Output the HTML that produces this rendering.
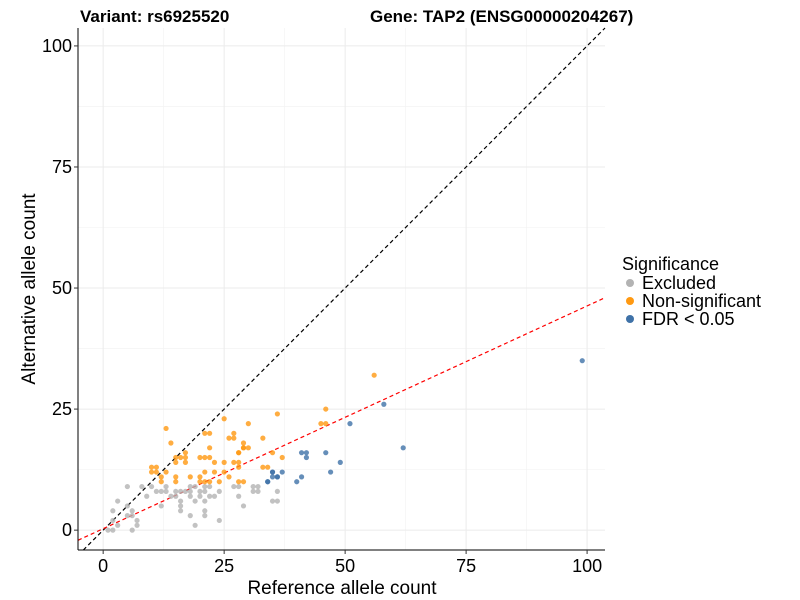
<!DOCTYPE html>
<html><head><meta charset="utf-8">
<style>
body{margin:0;background:#fff;}
svg{display:block;font-family:"Liberation Sans",Arial,sans-serif;}
</style></head>
<body>
<svg id="chart" width="800" height="600" viewBox="0 0 800 600" xmlns="http://www.w3.org/2000/svg">
<text x="80" y="22" font-size="17" font-weight="bold">Variant: rs6925520</text>
<text x="370" y="22" font-size="17" font-weight="bold">Gene: TAP2 (ENSG00000204267)</text>
<g id="grid"></g>
<g id="lines"></g>
<g id="points"></g>
<g id="axes"></g>
<text x="342" y="594" font-size="19" text-anchor="middle">Reference allele count</text>
<text transform="translate(35,289) rotate(-90)" font-size="19" text-anchor="middle">Alternative allele count</text>
<g>
<text x="622" y="270" font-size="18">Significance</text>
<circle cx="630" cy="283" r="4" fill="#b3b3b3"/>
<text x="642" y="289" font-size="18">Excluded</text>
<circle cx="630" cy="301" r="4" fill="#ff9912"/>
<text x="642" y="307" font-size="18">Non-significant</text>
<circle cx="630" cy="319" r="4" fill="#3f72a8"/>
<text x="642" y="325" font-size="18">FDR &lt; 0.05</text>
</g>
</svg>
<script>
const excludedRef = [5,8,10,13,18,19,21,22,28,32,11,12,13,15,16,17,18,20,21,24,32,9,3,14,15,18,20,22,23,28,12,16,19,21,36,2,5,6,16,16,21,29,5,6,7,2,3,1,2,6,7,18,21,24,19,27,31,31,35,36];
const excludedAlt = [9,9,9,9,9,9,9,9,9,9,8,8,8,8,8,8,8,8,8,8,8,7,6,7,7,7,7,7,7,7,5,6,6,6,6,4,5,4,5,4,4,5,3,3,2,2,1,0,0,0,1,3,3,2,1,9,9,8,6,8];
const nonsigRef = [13,14,25,30,36,21,22,27,26,27,33,29,22,29,30,17,28,15,16,17,20,21,22,35,15,17,23,25,27,28,10,11,28,33,34,10,11,13,18,21,23,25,12,15,20,26,12,15,20,21,22,24,28,29,56,46,45,46,37,28,29];
const nonsigAlt = [21,18,23,22,24,20,20,20,19,19,19,18,17,17,17,16,16,15,15,15,15,15,15,16,14,14,14,14,14,14,13,13,13,13,13,12,12,12,11,12,12,12,11,11,11,11,10,10,10,10,10,10,10,10,32,25,22,22,15,16,17];
const fdrRef = [35,35,36,34,58,51,41,42,42,46,49,47,35,37,36,34,40,41,99,62];
const fdrAlt = [12,11,11,10,26,22,16,16,15,16,14,12,12,12,11,10,10,11,35,17];
const xTicks = [0,25,50,75,100];
const yTicks = [0,25,50,75,100];
const redSlope = 0.46, redIntercept = 0.3;

const L=78,R=605,T=28,B=550;
const xMin=-5.2,xMax=103.7,yMin=-4.1,yMax=103.7;
const sx=v=>L+(v-xMin)/(xMax-xMin)*(R-L);
const sy=v=>B-(v-yMin)/(yMax-yMin)*(B-T);
const NS="http://www.w3.org/2000/svg";
function mk(tag,attrs,parent){const e=document.createElementNS(NS,tag);for(const k in attrs)e.setAttribute(k,attrs[k]);parent.appendChild(e);return e;}
const grid=document.getElementById('grid');
const minor=[12.5,37.5,62.5,87.5];
minor.forEach(v=>{
 let a=mk('line',{x1:sx(v),x2:sx(v),y1:T,y2:B,stroke:'#f2f2f2','stroke-width':0.6},grid);
 
 
 let b=mk('line',{x1:L,x2:R,y1:sy(v),y2:sy(v),stroke:'#f2f2f2','stroke-width':0.6},grid);
 
 
});
xTicks.forEach(v=>{
 let a=mk('line',{x1:sx(v),x2:sx(v),y1:T,y2:B,stroke:'#ebebeb','stroke-width':1},grid);
 
 
});
yTicks.forEach(v=>{
 let a=mk('line',{x1:L,x2:R,y1:sy(v),y2:sy(v),stroke:'#ebebeb','stroke-width':1},grid);
 
 
});
const lines=document.getElementById('lines');
// identity line clipped to plot
const idStart=Math.max(xMin,yMin), idEnd=Math.min(xMax,yMax);
let idl=mk('line',{x1:sx(idStart),y1:sy(idStart),x2:sx(idEnd),y2:sy(idEnd),stroke:'#000','stroke-width':1.2,'stroke-dasharray':'4,3'},lines);


let rl=mk('line',{x1:sx(xMin),y1:sy(redIntercept+redSlope*xMin),x2:sx(xMax),y2:sy(redIntercept+redSlope*xMax),stroke:'#ff0000','stroke-width':1.2,'stroke-dasharray':'4,3'},lines);


const pts=document.getElementById('points');
function drawSeries(xs,ys,color,name){
 xs.forEach((x,i)=>{
  const c=mk('circle',{cx:sx(x),cy:sy(ys[i]),r:2.6,fill:color,'fill-opacity':0.8},pts);
  
  
 });
}
drawSeries(excludedRef,excludedAlt,'#b3b3b3','point-excluded');
drawSeries(nonsigRef,nonsigAlt,'#ff9912','point-non-significant');
drawSeries(fdrRef,fdrAlt,'#3f72a8','point-fdr');
const axes=document.getElementById('axes');
let ya=mk('line',{x1:L,x2:L,y1:T,y2:B,stroke:'#000','stroke-width':1},axes);


let xa=mk('line',{x1:L,x2:R,y1:B,y2:B,stroke:'#000','stroke-width':1},axes);


xTicks.forEach(v=>{
 let t=mk('line',{x1:sx(v),x2:sx(v),y1:B,y2:B+4,stroke:'#333'},axes);
 
 
 let l=mk('text',{x:sx(v),y:B+22,'font-size':18,'text-anchor':'middle'},axes);
 l.textContent=v;
 
 
});
yTicks.forEach(v=>{
 let t=mk('line',{x1:L-4,x2:L,y1:sy(v),y2:sy(v),stroke:'#333'},axes);
 
 
 let l=mk('text',{x:L-6,y:sy(v)+6,'font-size':18,'text-anchor':'end'},axes);
 l.textContent=v;
 
 
});
</script>
</body></html>
